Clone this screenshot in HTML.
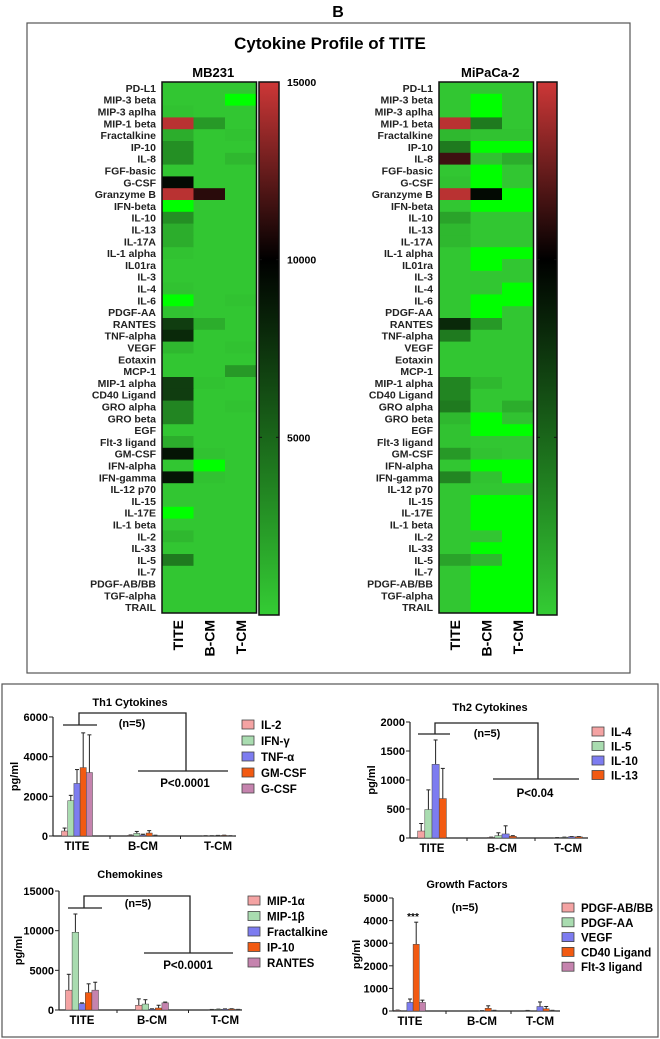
<!DOCTYPE html>
<html><head><meta charset="utf-8"><style>
html,body{margin:0;padding:0;background:#fff;}
svg{display:block;font-family:"Liberation Sans",Arial,sans-serif;}
</style></head><body>
<svg id="fig" width="660" height="1039" viewBox="0 0 660 1039">
<text x="338" y="17" font-size="16" font-weight="bold" text-anchor="middle">B</text>
<rect x="27" y="23" width="603" height="650" fill="none" stroke="#555" stroke-width="1.2"/>
<text x="330" y="49" font-size="17" font-weight="bold" text-anchor="middle">Cytokine Profile of TITE</text>
<rect x="2" y="684" width="656" height="353" fill="none" stroke="#555" stroke-width="1.2"/>
<g id="layer"></g>
</svg>
<script>
// ---------- heatmap data ----------
const hmRows = ["PD-L1","MIP-3 beta","MIP-3 aplha","MIP-1 beta","Fractalkine","IP-10","IL-8","FGF-basic","G-CSF","Granzyme B","IFN-beta","IL-10","IL-13","IL-17A","IL-1 alpha","IL01ra","IL-3","IL-4","IL-6","PDGF-AA","RANTES","TNF-alpha","VEGF","Eotaxin","MCP-1","MIP-1 alpha","CD40 Ligand","GRO alpha","GRO beta","EGF","Flt-3 ligand","GM-CSF","IFN-alpha","IFN-gamma","IL-12 p70","IL-15","IL-17E","IL-1 beta","IL-2","IL-33","IL-5","IL-7","PDGF-AB/BB","TGF-alpha","TRAIL"];
const hmCols = ["TITE","B-CM","T-CM"];
const cbTicks = [15000,10000,5000];
// -1 = below range (bright green)
const mbTITE = [300,300,500,14500,1500,3000,3000,300,9500,14500,-1,3000,1500,1500,500,300,300,500,-1,500,7000,8000,1000,300,300,7000,7000,3500,3500,300,1500,9000,300,9000,300,300,-1,300,1000,300,4000,300,300,300,300];
const mbBCM  = [300,300,300,2500,300,300,300,300,300,11000,300,300,300,300,300,300,300,300,300,300,1500,300,300,300,300,500,300,300,300,300,300,500,-1,500,300,300,300,300,300,300,300,300,300,300,300];
const mbTCM  = [300,-1,300,300,500,300,1000,300,300,300,300,300,300,300,300,300,300,300,500,300,300,300,500,300,2500,300,300,500,300,300,300,300,300,300,300,300,300,300,300,300,300,300,300,300,300];
const mpTITE = [300,300,300,14500,1000,4000,11500,300,500,14500,300,2000,1000,1000,300,300,300,300,300,300,8000,4000,300,300,300,3500,3500,4000,1000,500,500,2500,300,3500,300,300,300,300,300,300,2000,300,300,300,300];
const mpBCM  = [300,-1,-1,4000,500,-1,500,-1,-1,9500,-1,300,300,300,-1,-1,300,300,-1,-1,2500,300,300,300,300,1000,300,300,-1,-1,300,500,-1,500,300,-1,-1,-1,300,-1,1000,-1,-1,-1,-1];
const mpTCM  = [300,300,300,300,500,-1,1500,300,300,-1,-1,300,300,300,-1,300,300,-1,-1,300,300,300,300,300,300,300,300,1500,500,-1,300,300,-1,-1,300,-1,-1,-1,-1,-1,-1,-1,-1,-1,-1];

// ---------- bar chart data ----------
const groups = ["TITE","B-CM","T-CM"];
const th1Series = ["IL-2","IFN-γ","TNF-α","GM-CSF","G-CSF"];
const th1Ticks = [0,2000,4000,6000];
const th1TITE = [250,1780,2650,3450,3200];
const th1TITEErr = [150,270,700,1750,1900];
const th1BCM = [30,130,50,150,20];
const th1BCMErr = [20,100,40,120,20];
const th1TCM = [10,10,20,30,10];
const th1TCMErr = [5,5,10,10,5];

const th2Series = ["IL-4","IL-5","IL-10","IL-13"];
const th2Ticks = [0,500,1000,1500,2000];
const th2TITE = [120,490,1270,680];
const th2TITEErr = [130,340,420,520];
const th2BCM = [10,40,70,30];
const th2BCMErr = [5,50,140,10];
const th2TCM = [5,10,20,20];
const th2TCMErr = [3,5,5,5];

const chSeries = ["MIP-1α","MIP-1β","Fractalkine","IP-10","RANTES"];
const chTicks = [0,5000,10000,15000];
const chTITE = [2500,9800,800,2200,2500];
const chTITEErr = [2000,2300,100,1100,1000];
const chBCM = [600,750,100,250,900];
const chBCMErr = [800,550,50,350,100];
const chTCM = [50,80,100,120,60];
const chTCMErr = [20,30,40,40,20];

const gfSeries = ["PDGF-AB/BB","PDGF-AA","VEGF","CD40 Ligand","Flt-3 ligand"];
const gfTicks = [0,1000,2000,3000,4000,5000];
const gfTITE = [30,0,380,2950,380];
const gfTITEErr = [10,0,150,980,100];
const gfBCM = [0,0,10,120,20];
const gfBCMErr = [0,0,5,110,10];
const gfTCM = [20,0,200,100,20];
const gfTCMErr = [5,0,200,100,10];

const barColors = ["#f4a3a3","#a9dcb0","#7d7cf0","#f25a12","#c583ae"];

const NS = "http://www.w3.org/2000/svg";
const layer = document.getElementById("layer");
function mk(tag, attrs, parent, txt){
  const e = document.createElementNS(NS, tag);
  for (const k in attrs) e.setAttribute(k, attrs[k]);
  if (txt !== undefined) e.textContent = txt;
  (parent || layer).appendChild(e);
  return e;
}
function lerp(a,b,t){return Math.round(a+(b-a)*t);}
function heatColor(v){
  if (v < 0) return "rgb(0,255,0)";
  const lo=[52,204,52], mid=[0,0,0], hi=[205,55,55];
  if (v <= 10000){const t=v/10000;return `rgb(${lerp(lo[0],mid[0],t)},${lerp(lo[1],mid[1],t)},${lerp(lo[2],mid[2],t)})`;}
  const t=Math.min(1,(v-10000)/5000);
  return `rgb(${lerp(mid[0],hi[0],t)},${lerp(mid[1],hi[1],t)},${lerp(mid[2],hi[2],t)})`;
}

function heatmap(name, title, cols, x0, labelX, cbX, showTicks){
  const y0 = 82, y1 = 613, cw = 31.5, rh = (y1-y0)/hmRows.length;
  const g = mk("g", {});
  
  
  const t = mk("text", {x: x0+cw*1.5+4, y: 77, "font-size": 13, "font-weight":"bold", "text-anchor":"middle"}, g, title);
  
  
  hmRows.forEach((r, i) => {
    const lb = mk("text", {x: labelX, y: y0 + rh*i + rh/2 + 4, "font-size": 10.5, "font-weight": "bold", fill: "#222", "text-anchor": "end"}, g, r);
    
    
    cols.forEach((arr, j) => {
      const c = mk("rect", {x: x0 + cw*j, y: y0 + rh*i, width: cw+0.4, height: rh+0.4, fill: heatColor(arr[i])}, g);
      
      
    });
  });
  const b = mk("rect", {x: x0, y: y0, width: cw*3, height: y1-y0, fill: "none", stroke: "#111", "stroke-width": 1.5}, g);
  
  
  hmCols.forEach((c, j) => {
    const cx = x0 + cw*j + cw/2 + 5;
    const tl = mk("text", {x: cx, y: 620, "font-size": 14, "font-weight": "bold", "text-anchor": "end", transform: `rotate(-90 ${cx} 620)`}, g, c);
    
    
  });
  // colorbar
  const defsId = name + "-grad";
  const defs = mk("defs", {}, g);
  const lg = mk("linearGradient", {id: defsId, x1: 0, y1: 1, x2: 0, y2: 0}, defs);
  [0, 2500, 5000, 7500, 10000, 12500, 15000].forEach(v => mk("stop", {offset: v/15000, "stop-color": heatColor(v)}, lg));
  const cb = mk("rect", {x: cbX, y: y0, width: 20, height: y1-y0+2, fill: `url(#${defsId})`, stroke: "#111", "stroke-width": 1.5}, g);
  
  
  cbTicks.forEach(v => {
    const yy = y1 + 2 - (v/15000)*(y1 - y0 + 2);
    mk("line", {x1: cbX, x2: cbX+3, y1: yy, y2: yy, stroke: "#111"}, g);
    mk("line", {x1: cbX+17, x2: cbX+20, y1: yy, y2: yy, stroke: "#111"}, g);
    if (showTicks){
      const tt = mk("text", {x: cbX+28, y: yy+4, "font-size": 10.5, "font-weight": "bold"}, g, String(v));
      
      
    }
  });
}
heatmap("mb231-heatmap", "MB231", [mbTITE, mbBCM, mbTCM], 162, 156, 259, true);
heatmap("mipaca2-heatmap", "MiPaCa-2", [mpTITE, mpBCM, mpTCM], 439, 433, 537, false);

function barChart(o){
  const g = mk("g", {});
  
  
  const maxV = o.ticks[o.ticks.length-1];
  const yS = v => o.y0 - (v/maxV)*(o.y0 - o.yTop);
  const tt = mk("text", {x: o.titleX, y: o.titleY, "font-size": 11, "font-weight": "bold", "text-anchor": "middle"}, g, o.title);
  
  
  mk("line", {x1: o.ax, x2: o.ax, y1: o.yTop, y2: o.y0, stroke: "#222", "stroke-width": 1.2}, g);
  mk("line", {x1: o.ax, x2: o.axEnd, y1: o.y0, y2: o.y0, stroke: "#222", "stroke-width": 1.2}, g);
  o.ticks.forEach(v => {
    const yy = yS(v);
    mk("line", {x1: o.ax-4, x2: o.ax, y1: yy, y2: yy, stroke: "#222"}, g);
    const tl = mk("text", {x: o.ax-5, y: yy+4, "font-size": 11, "font-weight": "bold", "text-anchor": "end"}, g, String(v));
    
    
  });
  const yl = mk("text", {x: o.ylX, y: (o.y0+o.yTop)/2, "font-size": 11, "font-weight": "bold", "text-anchor": "middle", transform: `rotate(-90 ${o.ylX} ${(o.y0+o.yTop)/2})`}, g, "pg/ml");
  
  
  const bw = o.bw;
  const vals = [o.d1, o.d2, o.d3], errs = [o.e1, o.e2, o.e3];
  groups.forEach((gn, gi) => {
    const cx = o.gx[gi];
    const xl = mk("text", {x: cx, y: o.y0+14, "font-size": 11.5, "font-weight": "bold", "text-anchor": "middle"}, g, gn);
    
    
    if (gi < 2){
      const tx = (o.gx[gi]+o.gx[gi+1])/2;
      mk("line", {x1: tx, x2: tx, y1: o.y0, y2: o.y0+3, stroke: "#222"}, g);
    }
    const n = o.series.length, start = cx - n*bw/2;
    vals[gi].forEach((v, si) => {
      const bx = start + si*bw, top = yS(v);
      if (v > 0){
        const et = yS(v + errs[gi][si]);
        mk("line", {x1: bx+bw/2, x2: bx+bw/2, y1: top, y2: et, stroke: "#222", "stroke-width": 1}, g);
        mk("line", {x1: bx+bw/2-2, x2: bx+bw/2+2, y1: et, y2: et, stroke: "#222", "stroke-width": 1}, g);
      }
      const r = mk("rect", {x: bx, y: top, width: bw, height: Math.max(0, o.y0 - top), fill: barColors[si], stroke: "#444", "stroke-width": 0.5}, g);
      
      
    });
  });
  o.series.forEach((s, i) => {
    const ly = o.legY + i*o.legStep;
    const sw = mk("rect", {x: o.legX, y: ly-5, width: 12, height: 9, fill: barColors[i], stroke: "#444", "stroke-width": 0.8}, g);
    
    
    const lt = mk("text", {x: o.legX+19, y: ly+4, "font-size": 11.5, "font-weight": "bold"}, g, s);
    
    
  });
  const ns = mk("text", {x: o.nX, y: o.nY, "font-size": 11, "font-weight": "bold", "text-anchor": "middle"}, g, "(n=5)");
  
  
  if (o.br){
    const b = o.br;
    mk("path", {d: `M${b.a1} ${b.ya} H${b.a2} M${b.v1} ${b.ya} V${b.yt} H${b.v2} V${b.yb} M${b.b1} ${b.yb} H${b.b2}`, fill: "none", stroke: "#222", "stroke-width": 1.3}, g);
    const p = mk("text", {x: b.pX, y: b.pY, "font-size": 11.5, "font-weight": "bold", "text-anchor": "middle"}, g, b.p);
    
    
  }
  if (o.star){
    const s = mk("text", {x: o.star[0], y: o.star[1], "font-size": 10, "font-weight": "bold", "text-anchor": "middle"}, g, "***");
    
    
  }
}

barChart({name:"th1-chart", title:"Th1 Cytokines", titleX:130, titleY:706, ax:53, axEnd:236, y0:836, yTop:717, ticks:th1Ticks, ylX:18,
  gx:[77,143,218], bw:6.2, series:th1Series, d1:th1TITE, d2:th1BCM, d3:th1TCM, e1:th1TITEErr, e2:th1BCMErr, e3:th1TCMErr,
  legX:242, legY:725, legStep:16, nX:132, nY:727,
  br:{a1:63,a2:97,ya:725,v1:79,yt:713,v2:186,yb:771,b1:138,b2:228,p:"P<0.0001",pX:185,pY:787}});
barChart({name:"chemokines-chart", title:"Chemokines", titleX:130, titleY:878, ax:59, axEnd:242, y0:1010, yTop:891, ticks:chTicks, ylX:22,
  gx:[82,152,225], bw:6.6, series:chSeries, d1:chTITE, d2:chBCM, d3:chTCM, e1:chTITEErr, e2:chBCMErr, e3:chTCMErr,
  legX:248, legY:901, legStep:15.5, nX:138, nY:907,
  br:{a1:68,a2:102,ya:908,v1:84,yt:896,v2:190,yb:953,b1:144,b2:233,p:"P<0.0001",pX:188,pY:969}});
barChart({name:"th2-chart", title:"Th2 Cytokines", titleX:490, titleY:711, ax:410, axEnd:588, y0:838, yTop:722, ticks:th2Ticks, ylX:375,
  gx:[432,502,568], bw:7.2, series:th2Series, d1:th2TITE, d2:th2BCM, d3:th2TCM, e1:th2TITEErr, e2:th2BCMErr, e3:th2TCMErr,
  legX:592, legY:732, legStep:14.5, nX:487, nY:737,
  br:{a1:418,a2:450,ya:734,v1:435,yt:723,v2:538,yb:779,b1:493,b2:579,p:"P<0.04",pX:535,pY:797}});
barChart({name:"growth-factors-chart", title:"Growth Factors", titleX:467, titleY:888, ax:393, axEnd:560, y0:1011, yTop:898, ticks:gfTicks, ylX:360,
  gx:[410,482,540], bw:6.2, series:gfSeries, d1:gfTITE, d2:gfBCM, d3:gfTCM, e1:gfTITEErr, e2:gfBCMErr, e3:gfTCMErr,
  legX:562, legY:908, legStep:14.8, nX:465, nY:911, star:[413,920]});
</script>
</body></html>
